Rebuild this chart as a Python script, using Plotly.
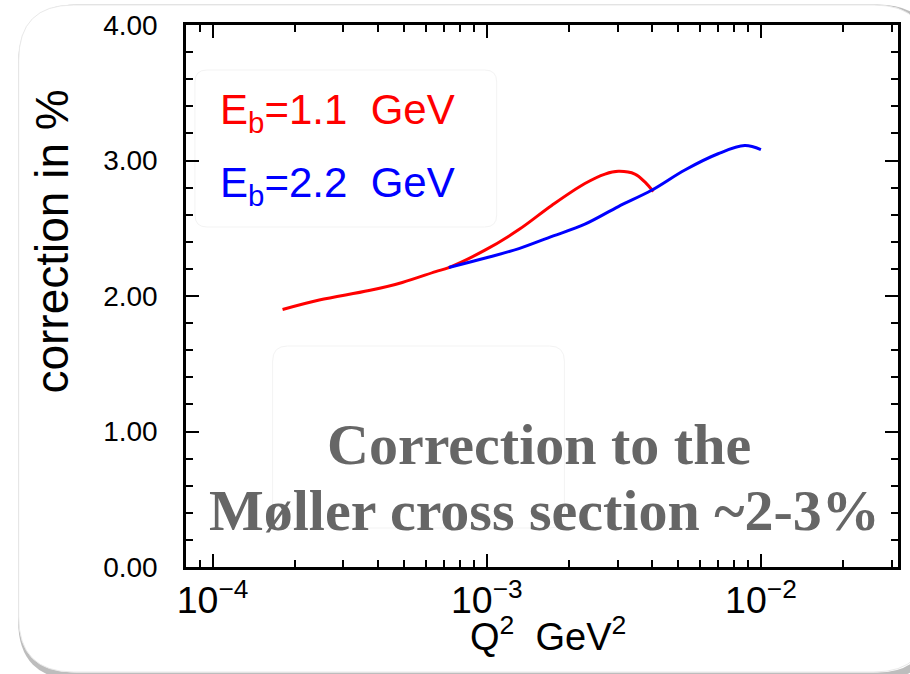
import math
import plotly.graph_objects as go

# ---- data ----
red_q2 = [1.80e-4, 2.45e-4, 3.72e-4, 4.92e-4, 6.51e-4, 7.27e-4, 9.89e-4, 1.31e-3,
          1.73e-3, 2.28e-3, 2.70e-3, 3.02e-3, 3.47e-3, 3.78e-3, 4.05e-3]
red_corr = [1.90, 1.97, 2.04, 2.10, 2.18, 2.21, 2.34, 2.49,
            2.67, 2.83, 2.90, 2.92, 2.90, 2.84, 2.77]
blue_q2 = [7.27e-4, 9.89e-4, 1.31e-3, 1.73e-3, 2.28e-3, 3.02e-3, 3.99e-3,
           5.28e-3, 6.98e-3, 8.73e-3, 1.0e-2]
blue_corr = [2.21, 2.28, 2.35, 2.44, 2.53, 2.66, 2.78,
             2.93, 3.05, 3.11, 3.08]
y_ticks = [0, 1, 2, 3, 4]
label_red = "E<sub>b</sub>=1.1\u00a0\u00a0GeV"
label_blue = "E<sub>b</sub>=2.2\u00a0\u00a0GeV"
x_title = "Q<sup>2</sup>\u00a0\u00a0GeV<sup>2</sup>"
y_title = "correction\u00a0in\u00a0%"
note_1 = "Correction to the"
note_2 = "Møller cross section ~2-3%"

W, H = 910, 674
L, R, T, B = 186, 901, 25, 567


def px(x):
    return (x - L) / (R - L)


def py(y):
    return (B - y) / (B - T)


def rrect(x0, y0, x1, y1, r):
    return (f"M {px(x0 + r)},{py(y0)} L {px(x1 - r)},{py(y0)} "
            f"Q {px(x1)},{py(y0)} {px(x1)},{py(y0 + r)} "
            f"L {px(x1)},{py(y1 - r)} Q {px(x1)},{py(y1)} {px(x1 - r)},{py(y1)} "
            f"L {px(x0 + r)},{py(y1)} Q {px(x0)},{py(y1)} {px(x0)},{py(y1 - r)} "
            f"L {px(x0)},{py(y0 + r)} Q {px(x0)},{py(y0)} {px(x0 + r)},{py(y0)} Z")


fig = go.Figure()
fig.add_trace(go.Scatter(x=red_q2, y=red_corr, mode="lines", line=dict(color="#ff0000", width=3, shape="spline"),
                         showlegend=False, hoverinfo="skip"))
fig.add_trace(go.Scatter(x=blue_q2, y=blue_corr, mode="lines", line=dict(color="#0000ff", width=3, shape="spline"),
                         showlegend=False, hoverinfo="skip"))

axis_font = "Liberation Sans, Arial, sans-serif"

fig.update_xaxes(type="log", range=[math.log10(8e-5), -1.5], dtick=1, exponentformat="power",
                 showgrid=False, zeroline=False, showline=True, linecolor="black", linewidth=2.5,
                 mirror="allticks", ticks="inside", ticklen=13, tickwidth=2, tickcolor="black",
                 minor=dict(dtick="D1", ticks="inside", ticklen=7, tickwidth=2, tickcolor="black", showgrid=False),
                 tickfont=dict(family=axis_font, size=30, color="black"), ticklabelstandoff=0)
fig.update_yaxes(range=[0, 4], tickvals=y_ticks, tickformat=".2f",
                 showgrid=False, zeroline=False, showline=True, linecolor="black", linewidth=2.5,
                 mirror="allticks", ticks="inside", ticklen=13, tickwidth=2, tickcolor="black",
                 minor=dict(dtick=0.2, ticks="inside", ticklen=7, tickwidth=2, tickcolor="black", showgrid=False),
                 tickfont=dict(family=axis_font, size=28, color="black"), ticklabelstandoff=20)

shapes = [
    # shadow of slide frame
    dict(type="path", xref="paper", yref="paper", path=rrect(21, 8, 935, 676, 55),
         line=dict(color="rgba(90,90,90,0.4)", width=7), fillcolor="rgba(0,0,0,0)", layer="below"),
    dict(type="path", xref="paper", yref="paper", path=rrect(18, 5, 932, 672, 55),
         line=dict(color="#e9e9e9", width=1), fillcolor="white", layer="below"),
    dict(type="path", xref="paper", yref="paper", path=rrect(195, 70, 498, 227, 12),
         line=dict(color="#f3f3f3", width=1), fillcolor="rgba(0,0,0,0)", layer="below"),
    dict(type="path", xref="paper", yref="paper", path=rrect(273, 346, 566, 528, 15),
         line=dict(color="#f3f3f3", width=1), fillcolor="rgba(0,0,0,0)", layer="below"),
]

annotations = [
    dict(text=label_red, xref="paper", yref="paper", x=px(218), y=py(112), xanchor="left", yanchor="middle",
         showarrow=False, font=dict(family=axis_font, size=42, color="#ff0000")),
    dict(text=label_blue, xref="paper", yref="paper", x=px(218), y=py(186), xanchor="left", yanchor="middle",
         showarrow=False, font=dict(family=axis_font, size=42, color="#0000ff")),
    dict(text=x_title, xref="paper", yref="paper", x=px(550), y=py(634), xanchor="center", yanchor="middle",
         showarrow=False, font=dict(family=axis_font, size=38, color="black")),
    dict(text=y_title, xref="paper", yref="paper", x=px(51), y=py(242), xanchor="center", yanchor="middle",
         textangle=-90, showarrow=False, font=dict(family=axis_font, size=46, color="black")),
    dict(text="<b>" + note_1 + "</b>", xref="paper", yref="paper", x=px(540), y=py(445), xanchor="center",
         yanchor="middle", showarrow=False, font=dict(family="Liberation Serif, serif", size=58, color="#666666")),
    dict(text="<b>" + note_2 + "</b>", xref="paper", yref="paper", x=px(546), y=py(510), xanchor="center",
         yanchor="middle", showarrow=False, font=dict(family="Liberation Serif, serif", size=58, color="#666666")),
]

fig.update_layout(width=W, height=H, margin=dict(l=L, r=W - R, t=T, b=H - B),
                  paper_bgcolor="white", plot_bgcolor="rgba(0,0,0,0)",
                  shapes=shapes, annotations=annotations, showlegend=False)

fig.write_html("out.html")
